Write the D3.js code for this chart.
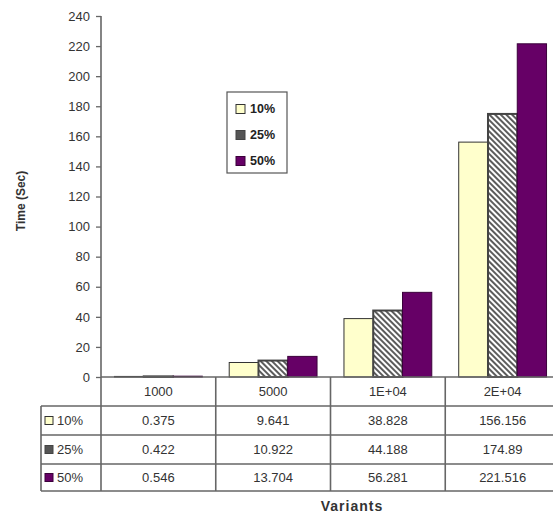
<!DOCTYPE html>
<html>
<head>
<meta charset="utf-8">
<script src="https://cdn.jsdelivr.net/npm/d3@7/dist/d3.min.js"></script>
<style>
  html, body { margin: 0; padding: 0; background: #fff; }
  svg { display: block; font-family: "Liberation Sans", Arial, sans-serif; }
</style>
</head>
<body>
<svg id="chart" width="553" height="516"></svg>
<script>
// Run time per variant count, for three percentages
const categories = ["1000", "5000", "1E+04", "2E+04"];
const seriesNames = ["10%", "25%", "50%"];
const s10 = [0.375, 9.641, 38.828, 156.156];
const s25 = [0.422, 10.922, 44.188, 174.89];
const s50 = [0.546, 13.704, 56.281, 221.516];
const seriesValues = [s10, s25, s50];
const seriesLabels = [
  ["0.375", "9.641", "38.828", "156.156"],
  ["0.422", "10.922", "44.188", "174.89"],
  ["0.546", "13.704", "56.281", "221.516"]
];
const yTicks = [0, 20, 40, 60, 80, 100, 120, 140, 160, 180, 200, 220, 240];

const svg = d3.select("#chart");
const defs = svg.append("defs");

// downward diagonal hatch for the middle series
const pat = defs.append("pattern")
  .attr("id", "hatch")
  .attr("patternUnits", "userSpaceOnUse")
  .attr("width", 4).attr("height", 4)
  .attr("patternTransform", "rotate(-45)");
pat.append("rect").attr("width", 4).attr("height", 4).attr("fill", "#fff");
pat.append("line").attr("x1", 1).attr("y1", 0).attr("x2", 1).attr("y2", 4)
  .attr("stroke", "#333").attr("stroke-width", 1.6);

const fills = ["#FFFFCC", "url(#hatch)", "#660066"];
const strokes = ["#333", "#444", "#3a003a"];
const strokeW = [1, 2, 1];
const keyFills = ["#FFFFCC", "#555", "#660066"];

const plotLeft = 101, plotRight = 560, plotTop = 16, base = 377;
const rowEdges = [377, 406, 435, 464, 491];
const tableLeft = 41;

const x = d3.scaleBand().domain(categories).range([plotLeft, plotRight]).padding(0);
const xs = d3.scaleBand().domain(seriesNames).range([0, x.bandwidth()])
  .paddingInner(0).paddingOuter(0.46);
const y = d3.scaleLinear().domain([0, 240]).range([base, plotTop]);

// bars
seriesNames.forEach((s, si) => {
  svg.append("g").selectAll("rect")
    .data(categories.map((c, ci) => ({ c, v: seriesValues[si][ci] })))
    .join("rect")
    .attr("x", d => x(d.c) + xs(s))
    .attr("y", d => y(d.v))
    .attr("width", xs.bandwidth())
    .attr("height", d => base - y(d.v))
    .attr("fill", fills[si])
    .attr("stroke", strokes[si])
    .attr("stroke-width", strokeW[si]);
});

// value axis
const yAxis = svg.append("g")
  .attr("transform", `translate(${plotLeft},0)`)
  .call(d3.axisLeft(y).tickValues(yTicks).tickSize(5).tickPadding(6));
yAxis.select(".domain").remove();
yAxis.selectAll(".tick line").attr("stroke", "#666").attr("stroke-width", 1.3);
yAxis.selectAll(".tick text")
  .attr("font-size", 13).attr("fill", "#333")
  .attr("font-family", "'Liberation Sans', Arial, sans-serif");

const lineCol = "#666";
// vertical axis line down through the table
svg.append("line").attr("x1", plotLeft).attr("x2", plotLeft).attr("y1", plotTop).attr("y2", rowEdges[4])
  .attr("stroke", lineCol).attr("stroke-width", 1.6);
// category axis line
svg.append("line").attr("x1", plotLeft).attr("x2", plotRight).attr("y1", base).attr("y2", base)
  .attr("stroke", lineCol).attr("stroke-width", 1.6);

// data table grid
rowEdges.slice(1).forEach(ry => {
  svg.append("line").attr("x1", tableLeft).attr("x2", plotRight).attr("y1", ry).attr("y2", ry)
    .attr("stroke", lineCol).attr("stroke-width", 1.6);
});
svg.append("line").attr("x1", tableLeft).attr("x2", tableLeft)
  .attr("y1", rowEdges[1]).attr("y2", rowEdges[4])
  .attr("stroke", lineCol).attr("stroke-width", 1.6);
categories.forEach(c => {
  svg.append("line").attr("x1", x(c) + x.bandwidth()).attr("x2", x(c) + x.bandwidth())
    .attr("y1", base).attr("y2", rowEdges[4])
    .attr("stroke", lineCol).attr("stroke-width", 1.6);
});

// header row: category names
svg.append("g").selectAll("text").data(categories).join("text")
  .attr("x", d => x(d) + x.bandwidth() / 2)
  .attr("y", (rowEdges[0] + rowEdges[1]) / 2)
  .attr("dy", "0.35em").attr("text-anchor", "middle")
  .attr("font-size", 13).attr("fill", "#333")
  .text(d => d);

// value rows
seriesNames.forEach((s, si) => {
  const cy = (rowEdges[si + 1] + rowEdges[si + 2]) / 2;
  svg.append("g").selectAll("text").data(categories).join("text")
    .attr("x", d => x(d) + x.bandwidth() / 2)
    .attr("y", cy)
    .attr("dy", "0.35em").attr("text-anchor", "middle")
    .attr("font-size", 13).attr("fill", "#333")
    .text((d, ci) => seriesLabels[si][ci]);
  // legend key in the table
  svg.append("rect").attr("x", 45).attr("y", cy - 4).attr("width", 8).attr("height", 8)
    .attr("fill", keyFills[si]).attr("stroke", strokes[si]).attr("stroke-width", 1);
  svg.append("text").attr("x", 57).attr("y", cy).attr("dy", "0.35em")
    .attr("font-size", 13).attr("fill", "#333").text(s);
});

// legend box
const lg = svg.append("g");
lg.append("rect").attr("x", 227).attr("y", 92).attr("width", 60).attr("height", 81)
  .attr("fill", "#fff").attr("stroke", "#555").attr("stroke-width", 1.2);
seriesNames.forEach((s, si) => {
  const cy = 109 + si * 26;
  lg.append("rect").attr("x", 236).attr("y", cy - 4.5).attr("width", 9).attr("height", 9)
    .attr("fill", keyFills[si]).attr("stroke", strokes[si]).attr("stroke-width", 1);
  lg.append("text").attr("x", 250).attr("y", cy).attr("dy", "0.35em")
    .attr("font-size", 12.5).attr("font-weight", "bold").attr("fill", "#222").text(s);
});

// axis titles
svg.append("text").attr("transform", "translate(25,201) rotate(-90)")
  .attr("text-anchor", "middle").attr("font-size", 12).attr("font-weight", "bold")
  .attr("fill", "#333").text("Time (Sec)");
svg.append("text").attr("x", 352).attr("y", 506).attr("dy", "0.35em")
  .attr("text-anchor", "middle").attr("font-size", 14).attr("font-weight", "bold")
  .attr("letter-spacing", "1px").attr("fill", "#333").text("Variants");
</script>
</body>
</html>
